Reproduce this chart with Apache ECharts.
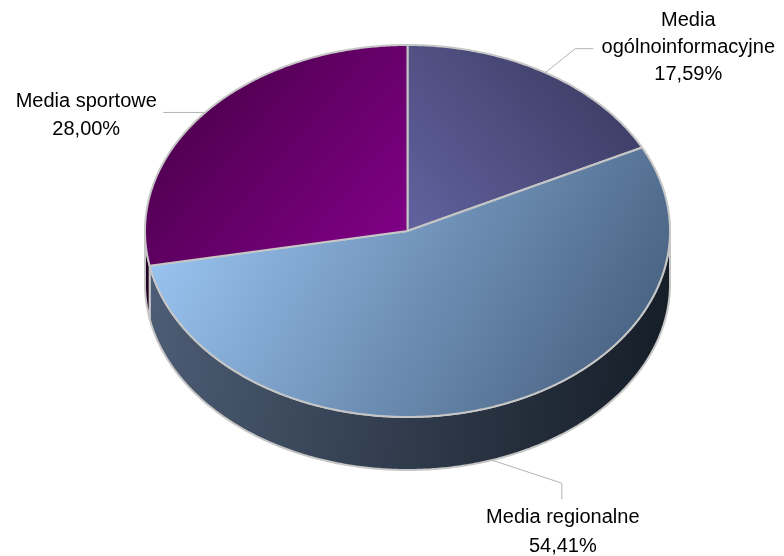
<!DOCTYPE html>
<html>
<head>
<meta charset="utf-8">
<style>
  html, body { margin: 0; padding: 0; background: #ffffff; }
  #chart { width: 784px; height: 556px; }
</style>
<script src="https://cdn.jsdelivr.net/npm/echarts@6/dist/echarts.min.js"></script>
</head>
<body>
<div id="chart"></div>
<script>
// Udział typów mediów (procent)
const categories = ['Media ogólnoinformacyjne', 'Media regionalne', 'Media sportowe'];
const labelNames = ['Media\nogólnoinformacyjne', 'Media regionalne', 'Media sportowe'];
const shares = [17.59, 54.41, 28.00];

// Tilted-disc geometry
const CX = 407.5, CY = 231, RX = 262.5, RY = 186, DEPTH = 53;
const EDGE = '#c6c6c6';

const total = shares.reduce((a, b) => a + b, 0);
const startFrac = [];
shares.reduce((acc, v, i) => { startFrac[i] = acc; return acc + v; }, 0);

// Slice fills: top face gradient and side wall gradient
const topFill = [
  { x: 0, y: 1, x2: 1, y2: 0, stops: ['#6262a0', '#36365a'] },
  { x: 0, y: 0.1, x2: 0.85, y2: 1, stops: ['#a0ccfa', '#4a6484'] },
  { x: 0, y: 0, x2: 1, y2: 1, stops: ['#420042', '#84008a'] }
];
const sideFill = [
  ['#2c2c48', '#1c1c30'],
  ['#4e5e76', '#161e28'],
  ['#300030', '#200020']
];

// Label leader routes and text offsets relative to the slice anchor point
const labelLayout = [
  { onBottom: false, leader: [[0, 0], [30, -24], [48, -24]], text: [143, -25], lineHeight: 27 },
  { onBottom: true,  leader: [[0, 0], [70, 23], [70, 39]],  text: [71, 72],   lineHeight: 29 },
  { onBottom: false, leader: [[0, 0], [-42, 0]],            text: [-119, 3],  lineHeight: 28 }
];

function pt(theta, dy) {
  return [CX + RX * Math.sin(theta), CY - RY * Math.cos(theta) + (dy || 0)];
}
function arc(a, b, dy) {
  const pts = [];
  const n = Math.max(2, Math.ceil(Math.abs(b - a) / (Math.PI / 360)));
  for (let k = 0; k <= n; k++) pts.push(pt(a + (b - a) * k / n, dy));
  return pts;
}
function grad(g) {
  return new echarts.graphic.LinearGradient(g.x, g.y, g.x2, g.y2, [
    { offset: 0, color: g.stops[0] }, { offset: 1, color: g.stops[1] }
  ]);
}

function renderItem(params, api) {
  const i = params.dataIndex;
  const value = api.value(0);
  const a0 = startFrac[i] / total * Math.PI * 2;
  const a1 = a0 + value / total * Math.PI * 2;
  const children = [];

  // visible front wall (between 90° and 270° measured clockwise from top)
  const s = Math.max(a0, Math.PI / 2), e = Math.min(a1, Math.PI * 3 / 2);
  if (e > s) {
    const top = arc(s, e, 0);
    const bottom = arc(e, s, DEPTH);
    children.push({
      type: 'polygon',
      z2: 1,
      shape: { points: top.concat(bottom) },
      style: {
        fill: new echarts.graphic.LinearGradient(0, 0, 1, 0.3, [
          { offset: 0, color: sideFill[i][0] }, { offset: 1, color: sideFill[i][1] }
        ]),
        stroke: EDGE, lineWidth: 2, lineJoin: 'round'
      }
    });
  }

  // top face
  children.push({
    type: 'polygon',
    z2: 2,
    shape: { points: [[CX, CY]].concat(arc(a0, a1, 0)) },
    style: { fill: grad(topFill[i]), stroke: EDGE, lineWidth: 2, lineJoin: 'round' }
  });

  // label with leader line
  const lay = labelLayout[i];
  const mid = (a0 + a1) / 2;
  const anchor = pt(mid, lay.onBottom ? DEPTH : 0);
  children.push({
    type: 'polyline',
    z2: 3,
    shape: { points: lay.leader.map(p => [anchor[0] + p[0], anchor[1] + p[1]]) },
    style: { stroke: '#b4b4b4', lineWidth: 1, fill: null }
  });
  const pct = value.toFixed(2).replace('.', ',') + '%';
  children.push({
    type: 'text',
    z2: 3,
    x: anchor[0] + lay.text[0],
    y: anchor[1] + lay.text[1],
    style: {
      text: labelNames[i] + '\n' + pct,
      align: 'center', verticalAlign: 'middle',
      textAlign: 'center', textVerticalAlign: 'middle',
      fontFamily: '"Liberation Sans", Arial, sans-serif',
      fontSize: 20,
      lineHeight: lay.lineHeight,
      fill: '#000000'
    }
  });

  return { type: 'group', children: children };
}

const chart = echarts.init(document.getElementById('chart'), null, { renderer: 'canvas' });
chart.setOption({
  backgroundColor: '#ffffff',
  animation: false,
  series: [{
    type: 'custom',
    coordinateSystem: 'none',
    renderItem: renderItem,
    data: shares.map((v, i) => ({ name: categories[i], value: [v, i] }))
  }]
});
</script>
</body>
</html>
